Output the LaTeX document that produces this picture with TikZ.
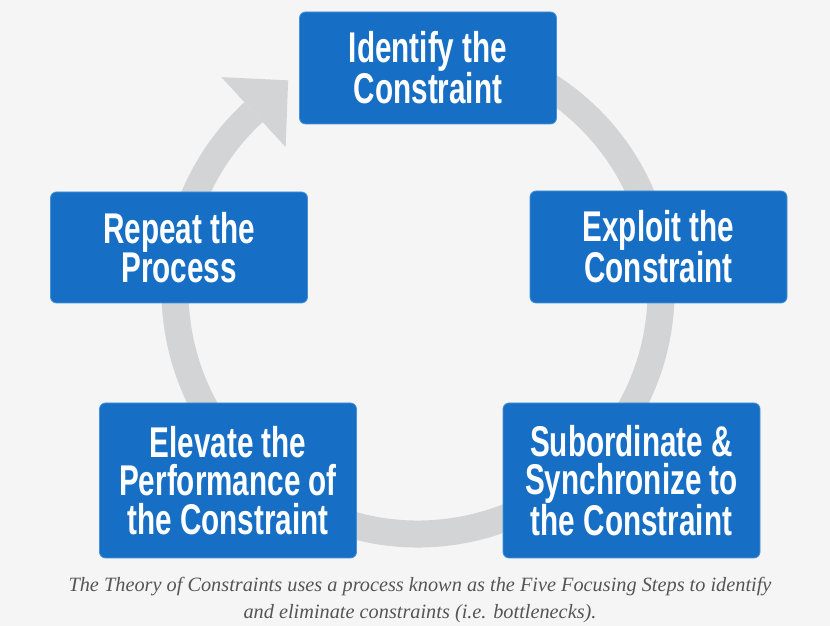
\documentclass[tikz,border=0pt]{standalone}
\usepackage{fontspec}
\usetikzlibrary{calc}
\newfontfamily\boxfont{Liberation Sans}[FakeStretch=0.69]
\newfontfamily\capfont{Liberation Serif}
\definecolor{bg}{RGB}{245,245,245}
\definecolor{boxblue}{RGB}{22,111,196}
\definecolor{boxedge}{RGB}{70,145,215}
\definecolor{ringgray}{RGB}{211,212,214}
\definecolor{capgray}{RGB}{85,85,85}
\tikzset{
  stepbox/.style={rectangle, rounded corners=6pt, fill=boxblue, draw=boxedge, line width=0.8pt,
    minimum width=257pt, text=white, align=center, inner sep=0pt,
    font=\boxfont\bfseries\fontsize{43}{38.5}\selectfont},
  ring/.style={draw=ringgray, line width=27pt},
  caption/.style={text=capgray, align=center, font=\capfont\itshape\fontsize{20.3}{27}\selectfont}
}
\begin{document}
\begin{tikzpicture}[x=1pt,y=1pt]
\fill[bg] (0,0) rectangle (830,626);
\useasboundingbox (0,0) rectangle (830,626);
\coordinate (C) at (418,335);
% ring with arrowhead
\draw[ring] ($(C)+(100:243)$) arc[start angle=100, end angle=-227.4, radius=243];
\coordinate (B) at ($(C)+(132.6:243)$);
\fill[ringgray] ($(C)+(132.6:290.5)$) -- ($(B)+(42.6:47)$) -- ($(C)+(132.6:195.5)$) -- cycle;
% boxes
\node[stepbox, minimum height=112pt] (identify) at (428,558) {Identify the\\Constraint};
\node[stepbox, minimum height=112pt] (exploit) at (658.5,379) {Exploit the\\Constraint};
\node[stepbox, minimum height=111pt] (repeat) at (179,378.5) {Repeat the\\Process};
\node[stepbox, minimum height=155pt] (elevate) at (228,145.5) {Elevate the\\Performance of\\the Constraint};
\node[stepbox, minimum height=155pt] (subord) at (631.5,145.5) {Subordinate \&\\Synchronize to\\the Constraint};
\node[caption] (cap) at (420,26) {The Theory of Constraints uses a process known as the Five Focusing Steps to identify\\and eliminate constraints (i.e. bottlenecks).};
\end{tikzpicture}
\end{document}
